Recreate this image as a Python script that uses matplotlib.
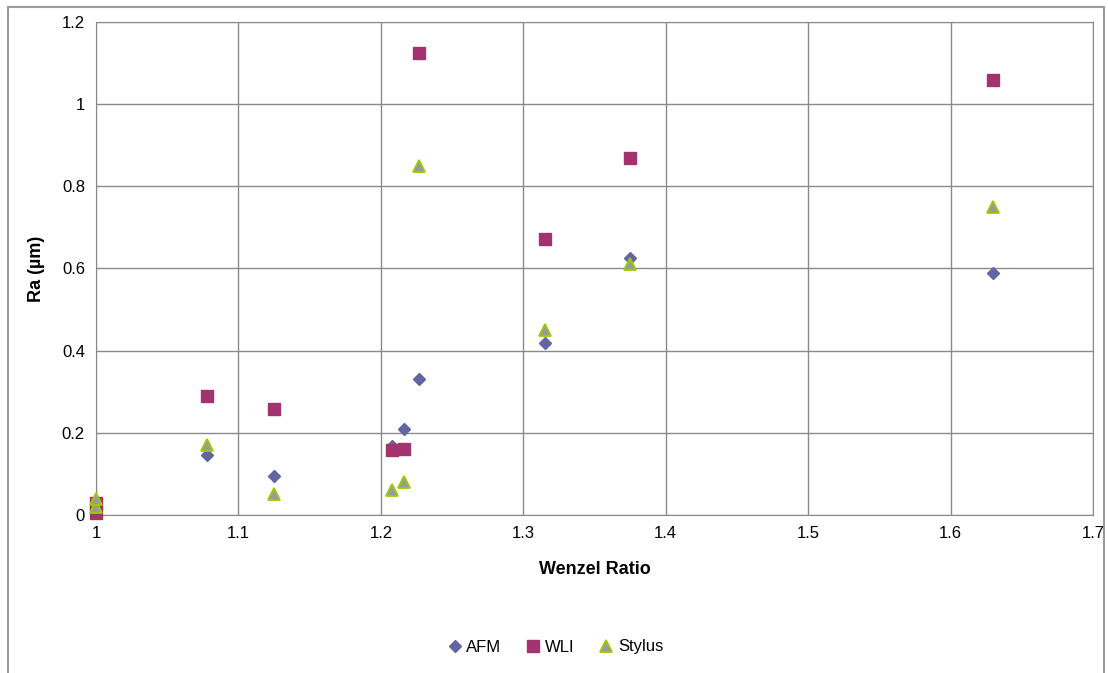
import matplotlib.pyplot as plt
from matplotlib.patches import Rectangle
from matplotlib.ticker import FuncFormatter, MultipleLocator

plt.rcParams['font.family'] = ['Liberation Sans', 'DejaVu Sans']

# Wenzel ratio vs Ra for three measurement methods
afm_x = [1.0, 1.0, 1.078, 1.125, 1.208, 1.216, 1.227, 1.315, 1.375, 1.63]
afm_y = [0.01, 0.02, 0.146, 0.094, 0.168, 0.209, 0.332, 0.418, 0.626, 0.59]

wli_x = [1.0, 1.0, 1.078, 1.125, 1.208, 1.216, 1.227, 1.315, 1.375, 1.63]
wli_y = [0.005, 0.03, 0.29, 0.258, 0.157, 0.16, 1.125, 0.673, 0.87, 1.06]

sty_x = [1.0, 1.0, 1.078, 1.125, 1.208, 1.216, 1.227, 1.315, 1.375, 1.63]
sty_y = [0.02, 0.04, 0.17, 0.05, 0.06, 0.08, 0.85, 0.45, 0.61, 0.75]

fig = plt.figure(figsize=(11.08, 6.73), dpi=100)
# outer chart border
fig.patches.append(Rectangle((8/1108, -0.05), 1096/1108, 1.05 - 7/673,
                             transform=fig.transFigure, fill=False,
                             edgecolor='#9a9a9a', linewidth=1.5))

ax = fig.add_axes([96/1108, 1 - 515/673, (1093-96)/1108, (515-22)/673])

ax.plot(afm_x, afm_y, 'D', color='#6464A3', markersize=6.5, label='AFM',
        zorder=3, clip_on=False)
ax.plot(wli_x, wli_y, 's', color='#A2336E', markersize=8.5, label='WLI',
        zorder=3, clip_on=False)
ax.plot(sty_x, sty_y, '^', markerfacecolor='#9A9A9A', markeredgecolor='#9ACD00',
        markeredgewidth=1.3, markersize=9, label='Stylus', zorder=4, clip_on=False)

ax.set_xlim(1, 1.7)
ax.set_ylim(0, 1.2)
ax.xaxis.set_major_locator(MultipleLocator(0.1))
ax.yaxis.set_major_locator(MultipleLocator(0.2))
fmt = FuncFormatter(lambda v, p: '%g' % round(v, 2))
ax.xaxis.set_major_formatter(fmt)
ax.yaxis.set_major_formatter(fmt)
ax.grid(True, color='#8a8a8a', linewidth=1)
ax.set_axisbelow(True)
for s in ax.spines.values():
    s.set_color('#8a8a8a')
ax.tick_params(length=0, labelsize=12, pad=8)

ax.set_xlabel('Wenzel Ratio', fontsize=13, fontweight='bold', labelpad=14)
ax.set_ylabel('Ra (µm)', fontsize=13, fontweight='bold', labelpad=12)

fig.legend(loc='center', bbox_to_anchor=(0.5, 1 - 647/673), ncol=3, frameon=False,
           fontsize=12, handletextpad=0.1, columnspacing=1.3, handlelength=1.2)

fig.savefig('out.png', dpi=100)
